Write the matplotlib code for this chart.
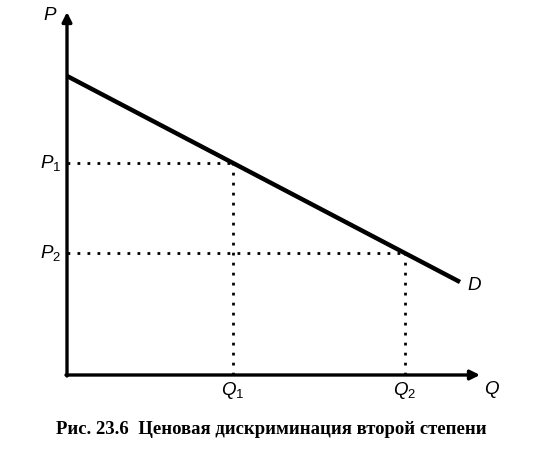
import matplotlib.pyplot as plt

plt.rcParams['mathtext.fontset'] = 'custom'
plt.rcParams['mathtext.it'] = 'Liberation Sans:italic'
plt.rcParams['mathtext.rm'] = 'Liberation Sans'

# demand line end points (quantity, price)
demand_q = [0, 393]
demand_p = [299, 93]
# the two quantity / price pairs on the demand curve
q_points = [166, 338]
p_points = [212, 122]
q_labels = ['$Q_1$', '$Q_2$']
p_labels = ['$P_1$', '$P_2$']
q_max = 413
p_max = 363
caption = 'Рис. 23.6  Ценовая дискриминация второй степени'

fig = plt.figure(figsize=(5.42, 4.57), dpi=100)
ax = fig.add_axes([0, 0, 1, 1])
ax.set_xlim(-67, 475)
ax.set_ylim(-82, 375)
ax.axis('off')

# axes with arrows
arrow = dict(arrowstyle='-|>', lw=2.4, color='black', mutation_scale=14,
             shrinkA=0, shrinkB=0)
ax.annotate('', xy=(q_max, 0), xytext=(-1, 0), arrowprops=arrow)
ax.annotate('', xy=(0, p_max), xytext=(0, -1), arrowprops=arrow)

# demand curve
ax.plot(demand_q, demand_p, color='black', lw=3.2, solid_capstyle='butt')

# dotted guides
for q, p in zip(q_points, p_points):
    ax.plot([0, q], [p, p], color='black', lw=2, ls=(0, (1, 2.6)))
    ax.plot([q, q], [0, p], color='black', lw=2, ls=(0, (1, 2.6)))

lab = dict(fontsize=13.5, color='black')
for q, p, ql, pl in zip(q_points, p_points, q_labels, p_labels):
    ax.text(-6, p, pl, ha='right', va='center', **lab)
    ax.text(q, -5, ql, ha='center', va='top', **lab)

ax.text(-17, p_max - 3, '$P$', ha='center', va='center', **lab)
ax.text(q_max + 12, -14, '$Q$', ha='center', va='center', **lab)
ax.text(demand_q[1] + 14, demand_p[1] - 3, '$D$', ha='center', va='center', **lab)

ax.text(204, -55, caption, ha='center', va='center', fontsize=13.5,
        fontweight='bold', family='Liberation Serif')

fig.savefig('out.png', dpi=100)
